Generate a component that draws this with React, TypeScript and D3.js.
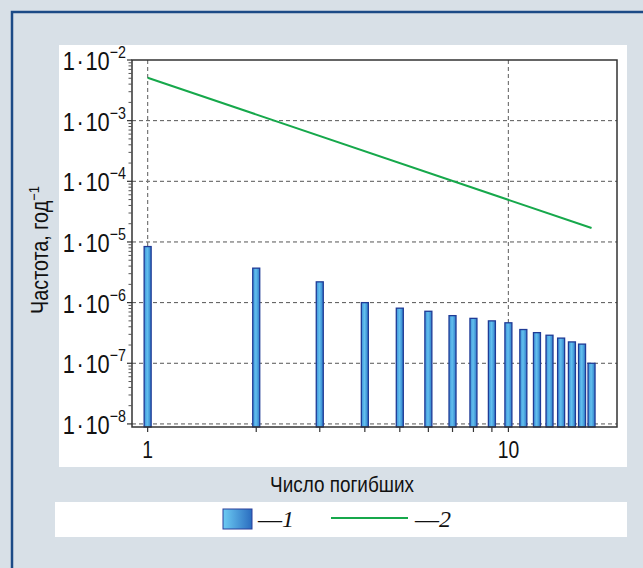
import * as d3 from "d3";

// Число погибших (N) and частота, год^-1
const deaths = [1, 2, 3, 4, 5, 6, 7, 8, 9, 10, 11, 12, 13, 14, 15, 16, 17];
const freqBars = [
  8.4e-6, 3.7e-6, 2.2e-6, 1.0e-6, 8.1e-7, 7.2e-7, 6.1e-7, 5.5e-7, 5.0e-7,
  4.65e-7, 3.6e-7, 3.2e-7, 2.9e-7, 2.6e-7, 2.25e-7, 2.07e-7, 1.0e-7,
];
// line 2 (straight in log-log), read at its ends
const lineN = [1, 17];
const lineFreq = [5.1e-3, 1.7e-5];

const yTickExp = [-2, -3, -4, -5, -6, -7, -8];
const xTickLabels = [1, 10];

const FONT = "'Liberation Sans', Arial, sans-serif";
const BG = "#d8e0e7";
const SX = 0.84; // narrow look, like Helvetica Condensed

export default function App() {
  const x = d3.scaleLog().domain([0.905, 20]).range([132, 617]);
  const y = d3.scaleLog().domain([0.89e-8, 1e-2]).range([427, 60]);
  const [x0, x1] = x.range();
  const [yb, yt] = y.range();

  const minorY: number[] = [];
  for (let e = -8; e < -2; e++) {
    for (let m = 2; m <= 9; m++) minorY.push(m * Math.pow(10, e));
  }
  const xTicks = d3.range(1, 11);

  const line = d3
    .line<number>()
    .x((d) => x(d))
    .y((_, i) => y(lineFreq[i]));

  const barW = 7;

  return (
    <svg
      width={643}
      height={568}
      style={{ position: "absolute", left: 0, top: 0 }}
      fontFamily={FONT}
    >
      <defs>
        <linearGradient id="barg" x1="0" x2="1" y1="0" y2="0">
          <stop offset="0" stopColor="#3d8fd8" />
          <stop offset="0.45" stopColor="#62c0ee" />
          <stop offset="1" stopColor="#2f7cc9" />
        </linearGradient>
        <linearGradient id="legg" x1="0" x2="1" y1="0" y2="0">
          <stop offset="0" stopColor="#6ccbf3" />
          <stop offset="1" stopColor="#2a6cbf" />
        </linearGradient>
      </defs>
      <rect x={0} y={0} width={643} height={568} fill={BG} />
      <rect x={12} y={12} width={700} height={700} fill={BG} stroke="#1c4a86" strokeWidth={2.5} />
      <rect x={59} y={45} width={568} height={422} fill="#fff" />
      <rect x={55} y={502} width={572} height={35} fill="#fff" />

      {/* grid */}
      {yTickExp.filter((e) => e !== -2).map((e) => (
        <line key={"gy" + e} x1={x0} x2={x1} y1={y(Math.pow(10, e))} y2={y(Math.pow(10, e))}
          stroke="#555" strokeWidth={1} strokeDasharray="4,3" />
      ))}
      {xTickLabels.map((v) => (
        <line key={"gx" + v} x1={x(v)} x2={x(v)} y1={yt} y2={yb}
          stroke="#777" strokeWidth={1.2} strokeDasharray="4,3" />
      ))}

      {/* bars */}
      {deaths.map((n, i) => (
        <rect key={"b" + n} x={x(n) - barW / 2} y={y(freqBars[i])} width={barW}
          height={yb - y(freqBars[i])} fill="url(#barg)" stroke="#1f3b96" strokeWidth={1.3} />
      ))}

      {/* line 2 */}
      <path d={line(lineN) ?? ""} fill="none" stroke="#16a84b" strokeWidth={2} />

      {/* frame */}
      <rect x={x0} y={yt} width={x1 - x0} height={yb - yt} fill="none" stroke="#333" strokeWidth={1.5} />

      {/* y ticks */}
      {yTickExp.map((e) => (
        <line key={"ty" + e} x1={x0 - 5} x2={x0} y1={y(Math.pow(10, e))} y2={y(Math.pow(10, e))}
          stroke="#333" strokeWidth={1.2} />
      ))}
      {minorY.map((v) => (
        <line key={"my" + v} x1={x0 - 3.5} x2={x0} y1={y(v)} y2={y(v)} stroke="#555" strokeWidth={1} />
      ))}
      {yTickExp.map((e) => (
        <text key={"ly" + e} transform={`translate(126,${y(Math.pow(10, e)) + 10}) scale(${SX},1)`}
          textAnchor="end" fontSize={26} fill="#111">
          <tspan>1</tspan>
          <tspan dx={2}>·</tspan>
          <tspan dx={2}>10</tspan>
          <tspan fontSize={17} dy={-12}>{"\u2212" + Math.abs(e)}</tspan>
        </text>
      ))}

      {/* x ticks */}
      {xTicks.map((v) => (
        <line key={"tx" + v} x1={x(v)} x2={x(v)} y1={yb} y2={yb + 5} stroke="#333" strokeWidth={1.2} />
      ))}
      {xTickLabels.map((v) => (
        <text key={"lx" + v} transform={`translate(${x(v)},458) scale(${SX},1)`}
          textAnchor="middle" fontSize={23} fill="#111">{v}</text>
      ))}

      {/* axis titles */}
      <text transform={`translate(342,492) scale(0.86,1)`} textAnchor="middle" fontSize={22} fill="#111">
        Число погибших
      </text>
      <text transform={`translate(48,250) rotate(-90) scale(0.86,1)`} textAnchor="middle" fontSize={23} fill="#111">
        <tspan>Частота, год</tspan>
        <tspan fontSize={15} dy={-9}>{"\u22121"}</tspan>
      </text>

      {/* legend */}
      <rect x={223} y={509} width={29} height={20} fill="url(#legg)" stroke="#2a3f9a" strokeWidth={1} />
      <text x={258} y={527} fontSize={24} fill="#111" fontFamily="'Liberation Serif', serif">
        <tspan>—</tspan><tspan fontStyle="italic">1</tspan>
      </text>
      <line x1={331} x2={408} y1={518} y2={518} stroke="#16a84b" strokeWidth={2} />
      <text x={415} y={527} fontSize={24} fill="#111" fontFamily="'Liberation Serif', serif">
        <tspan>—</tspan><tspan fontStyle="italic">2</tspan>
      </text>
    </svg>
  );
}
